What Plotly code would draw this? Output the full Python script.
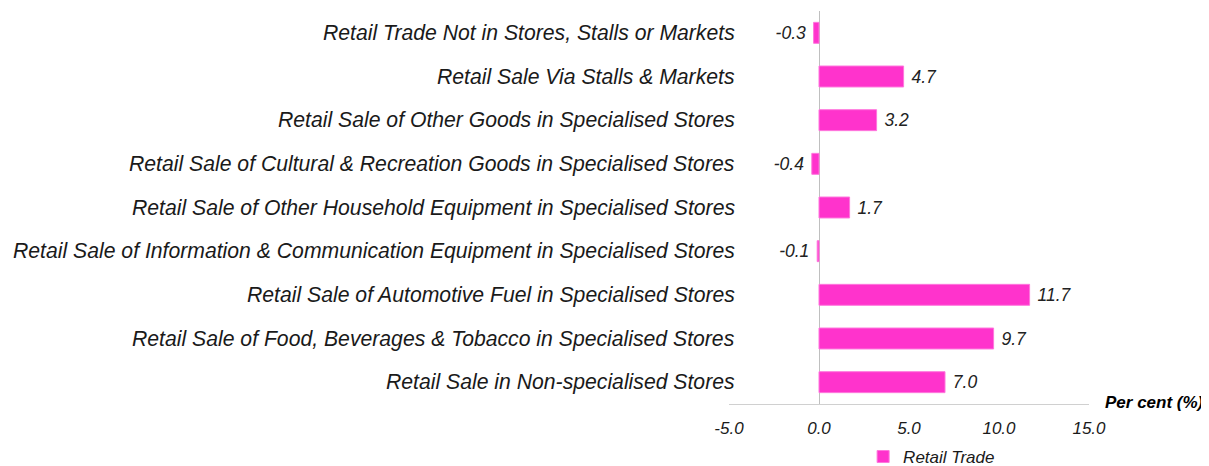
import plotly.graph_objects as go

categories = [
    "Retail Sale in Non-specialised Stores",
    "Retail Sale of Food, Beverages & Tobacco in Specialised Stores",
    "Retail Sale of Automotive Fuel in Specialised Stores",
    "Retail Sale of Information & Communication Equipment in Specialised Stores",
    "Retail Sale of Other Household Equipment in Specialised Stores",
    "Retail Sale of Cultural & Recreation Goods in Specialised Stores",
    "Retail Sale of Other Goods in Specialised Stores",
    "Retail Sale Via Stalls & Markets",
    "Retail Trade Not in Stores, Stalls or Markets",
]
values = [7.0, 9.7, 11.7, -0.1, 1.7, -0.4, 3.2, 4.7, -0.3]
series_name = "Retail Trade"
x_ticks = [-5, 0, 5, 10, 15]

FONT = "Liberation Sans, Arial, sans-serif"
PINK = "#FF33CC"

labels = [(f"\u00a0{v:.1f}" if v >= 0 else f"{v:.1f}\u00a0") for v in values]

fig = go.Figure()
fig.add_trace(go.Bar(
    y=categories,
    x=values,
    orientation="h",
    name=series_name,
    marker=dict(color=PINK, line=dict(color="#FF77DD", width=1)),
    text=labels,
    textposition="outside",
    textfont=dict(family=FONT, size=17.5, color="#222222", style="italic"),
    cliponaxis=False,
    showlegend=True,
))

for c in categories:
    fig.add_annotation(
        x=0, xref="paper", y=c, yref="y",
        text=c, showarrow=False, xanchor="right", xshift=8,
        font=dict(family=FONT, size=21.2, color="#1a1a1a", style="italic"),
    )

fig.add_annotation(
    x=1, xref="paper", y=0, yref="paper", xanchor="left", yanchor="middle",
    xshift=14, yshift=2,
    text="<b><i>Per cent (%)</i></b>", showarrow=False,
    font=dict(family=FONT, size=17, color="#000000"),
)

fig.update_layout(
    width=1201, height=458,
    margin=dict(l=721, r=120, t=3, b=62, autoexpand=False),
    plot_bgcolor="white", paper_bgcolor="white",
    bargap=0.52,
    font=dict(family=FONT),
    xaxis=dict(
        range=[-5, 15], tickvals=x_ticks, ticktext=[f"{t:.1f}" for t in x_ticks],
        showgrid=False, zeroline=True, zerolinecolor="#BFBFBF", zerolinewidth=1,
        showline=True, linecolor="#D0D0D0", linewidth=1,
        ticks="", tickfont=dict(family=FONT, size=17, color="#1a1a1a", style="italic"),
        ticklabelstandoff=9,
    ),
    yaxis=dict(
        showticklabels=False, showgrid=False, zeroline=False, showline=False,
        categoryorder="array", categoryarray=categories,
    ),
    legend=dict(
        orientation="h", x=0.712, xref="container", y=0.0197, yref="container",
        xanchor="left", yanchor="middle",
        font=dict(family=FONT, size=17, color="#1a1a1a", style="italic"),
        itemwidth=30,
    ),
)

fig.write_html("out.html")
